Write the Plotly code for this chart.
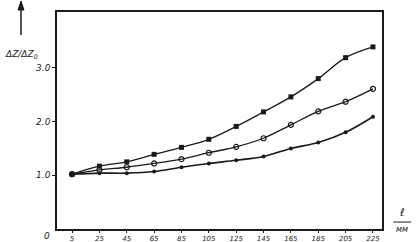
import plotly.graph_objects as go

x_vals = [5, 25, 45, 65, 85, 105, 125, 145, 165, 185, 205, 225]
x_labels = ["5", "25", "45", "65", "85", "105", "125", "145", "165", "185", "205", "225"]
series_squares = [1.02, 1.17, 1.25, 1.39, 1.52, 1.67, 1.91, 2.18, 2.46, 2.80, 3.19, 3.39]
series_open = [1.02, 1.10, 1.15, 1.22, 1.30, 1.42, 1.53, 1.69, 1.94, 2.19, 2.37, 2.61]
series_dots = [1.02, 1.04, 1.04, 1.07, 1.15, 1.22, 1.28, 1.35, 1.50, 1.61, 1.80, 2.09]
y_ticks = [1.0, 2.0, 3.0]
y_tick_labels = ["1.0", "2.0", "3.0"]

FONT = "DejaVu Sans"
INK = "#1a1a1a"

fig = go.Figure()
fig.add_trace(go.Scatter(
    x=x_vals, y=series_squares, mode="lines+markers", line=dict(color=INK, width=1.3, shape="spline"),
    marker=dict(symbol="square", size=5, color=INK), showlegend=False))
fig.add_trace(go.Scatter(
    x=x_vals, y=series_open, mode="lines+markers", line=dict(color=INK, width=1.3, shape="spline"),
    marker=dict(symbol="circle-open", size=5, color=INK, line=dict(width=1.2)), showlegend=False))
fig.add_trace(go.Scatter(
    x=x_vals, y=series_dots, mode="lines+markers", line=dict(color=INK, width=1.6, shape="spline"),
    marker=dict(symbol="circle", size=4, color=INK), showlegend=False))

fig.update_xaxes(
    range=[-6, 231.6], tickvals=x_vals, ticktext=x_labels, ticks="outside", ticklen=2,
    tickcolor=INK, showline=True, linecolor=INK, linewidth=1.5, mirror=True,
    showgrid=False, zeroline=False, automargin=False,
    tickfont=dict(family=FONT, size=7, color=INK, style="italic"))
fig.update_yaxes(
    range=[0.0, 4.04], tickvals=y_ticks, ticktext=y_tick_labels, ticks="outside", ticklen=3,
    tickcolor=INK, showline=True, linecolor=INK, linewidth=1.5, mirror=True,
    showgrid=False, zeroline=False, automargin=False,
    tickfont=dict(family=FONT, size=9, color=INK, style="italic"))

annotations = [
    dict(xref="paper", yref="paper", x=-0.108, y=0.84, showarrow=False, xanchor="center",
         text="ΔZ/ΔZ<sub>0</sub>", font=dict(family=FONT, size=9, color=INK, style="italic")),
    dict(xref="paper", yref="paper", x=-0.016, y=0.0, showarrow=False, xanchor="right", yanchor="top",
         text="0", font=dict(family=FONT, size=9, color=INK, style="italic")),
    dict(xref="paper", yref="paper", x=1.062, y=0.036, showarrow=False, xanchor="center", yanchor="bottom",
         text="ℓ", font=dict(family=FONT, size=11, color=INK, style="italic")),
    dict(xref="paper", yref="paper", x=1.062, y=0.028, showarrow=False, xanchor="center", yanchor="top",
         text="мм", font=dict(family=FONT, size=8, color=INK, style="italic")),
]

ax_x = -0.1108
shapes = [
    dict(type="line", xref="paper", yref="paper", x0=1.035, x1=1.09, y0=0.032, y1=0.032,
         line=dict(color=INK, width=1)),
    dict(type="line", xref="paper", yref="paper", x0=ax_x, x1=ax_x, y0=0.894, y1=1.015,
         line=dict(color=INK, width=1.5)),
    dict(type="path", xref="paper", yref="paper",
         path=f"M {ax_x - 0.0092} 1.0092 L {ax_x} 1.0507 L {ax_x + 0.0092} 1.0092 Z",
         fillcolor=INK, line=dict(color=INK, width=1)),
]

fig.update_layout(
    width=416, height=242,
    margin=dict(l=57, r=34, t=12, b=13),
    paper_bgcolor="white", plot_bgcolor="white",
    annotations=annotations,
    shapes=shapes,
)

fig.write_html("out.html", config={"displayModeBar": False},
               post_script="document.body.style.margin='0';document.body.style.overflow='hidden';")
